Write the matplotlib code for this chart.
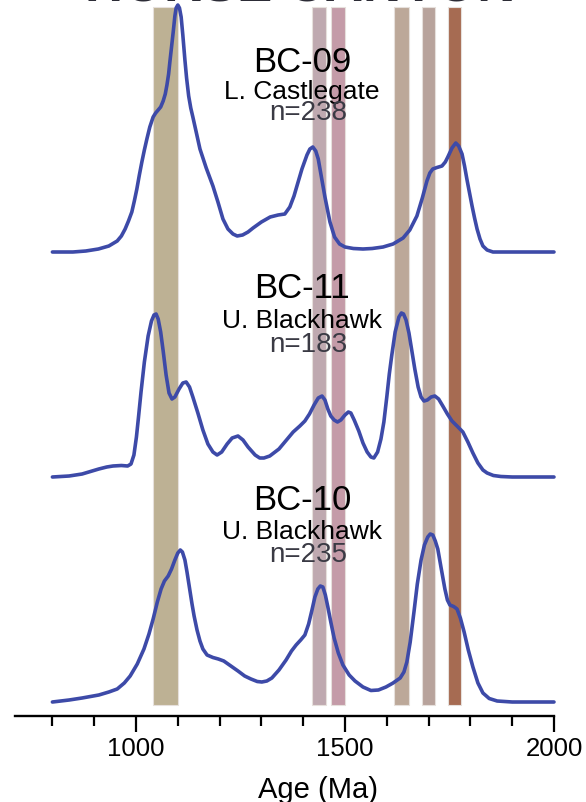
import matplotlib
matplotlib.use("Agg")
import matplotlib.pyplot as plt
from matplotlib.ticker import FixedLocator

plt.rcParams['font.family'] = ['Liberation Sans', 'DejaVu Sans']

title = "HORSE CANYON"
samples = ["BC-09", "BC-11", "BC-10"]
units = ["L. Castlegate", "U. Blackhawk", "U. Blackhawk"]
counts = ["n=238", "n=183", "n=235"]

# curve points: age (Ma) and relative density
ages_bc09 = [800, 849, 880, 910, 935, 955, 965, 974, 982, 990, 996, 1002, 1008, 1014, 1020,
             1026, 1033, 1041, 1047, 1053, 1059, 1065, 1070, 1074, 1078, 1081, 1085, 1089,
             1093, 1096, 1100, 1104, 1108, 1112, 1117, 1121, 1126, 1131, 1136, 1144, 1153,
             1168, 1184, 1196, 1208, 1220, 1232, 1242, 1255, 1268, 1280, 1300, 1321, 1340,
             1356, 1368, 1378, 1385, 1397, 1409, 1416, 1423, 1430, 1436, 1444, 1452, 1464,
             1475, 1487, 1500, 1520, 1543, 1565, 1591, 1615, 1639, 1655, 1672, 1685, 1696,
             1703, 1710, 1720, 1732, 1740, 1746, 1756, 1765, 1772, 1780, 1786, 1792, 1798,
             1804, 1810, 1816, 1823, 1830, 1840, 1854, 1900, 2000]
dens_bc09 = [0, 0, 0.01, 0.03, 0.06, 0.11, 0.16, 0.23, 0.31, 0.40, 0.51, 0.63, 0.77, 0.90, 1.02,
             1.13, 1.25, 1.35, 1.39, 1.42, 1.45, 1.51, 1.58, 1.67, 1.78, 1.90, 2.05, 2.20,
             2.36, 2.44, 2.47, 2.44, 2.35, 2.17, 1.92, 1.74, 1.56, 1.44, 1.35, 1.20, 1.03,
             0.84, 0.66, 0.50, 0.33, 0.23, 0.18, 0.16, 0.17, 0.20, 0.24, 0.30, 0.35, 0.37,
             0.38, 0.45, 0.56, 0.66, 0.83, 0.97, 1.03, 1.05, 1.01, 0.93, 0.74, 0.55, 0.30,
             0.15, 0.08, 0.05, 0.035, 0.03, 0.035, 0.05, 0.08, 0.14, 0.22, 0.36, 0.54, 0.71,
             0.79, 0.83, 0.845, 0.86, 0.90, 0.95, 1.04, 1.09, 1.06, 0.98, 0.86, 0.72, 0.59,
             0.46, 0.34, 0.23, 0.13, 0.06, 0.02, 0.0, 0, 0]

ages_bc11 = [800, 840, 871, 895, 911, 930, 945, 965, 980, 988, 995, 1001, 1006, 1012, 1020,
             1029, 1037, 1043, 1048, 1053, 1059, 1065, 1072, 1079, 1086, 1093, 1103, 1112,
             1120, 1128, 1136, 1148, 1160, 1172, 1184, 1194, 1205, 1218, 1230, 1244, 1256,
             1268, 1285, 1296, 1306, 1320, 1342, 1360, 1376, 1392, 1404, 1415, 1426, 1436,
             1445, 1452, 1459, 1466, 1474, 1482, 1490, 1500, 1508, 1514, 1522, 1533, 1543,
             1553, 1562, 1569, 1578, 1586, 1593, 1600, 1606, 1612, 1620, 1629, 1635, 1640,
             1646, 1653, 1660, 1667, 1675, 1682, 1689, 1697, 1706, 1715, 1724, 1734, 1745,
             1756, 1768, 1782, 1794, 1806, 1818, 1830, 1840, 1855, 1873, 1900, 2000]
dens_bc11 = [0, 0.01, 0.03, 0.06, 0.08, 0.10, 0.11, 0.115, 0.11, 0.13, 0.22, 0.40, 0.60, 0.85,
             1.15, 1.41, 1.56, 1.62, 1.63, 1.58, 1.45, 1.26, 1.02, 0.84, 0.78, 0.80, 0.88,
             0.94, 0.95, 0.90, 0.80, 0.64, 0.47, 0.33, 0.25, 0.22, 0.25, 0.33, 0.39, 0.41,
             0.37, 0.30, 0.22, 0.19, 0.19, 0.21, 0.28, 0.37, 0.45, 0.51, 0.56, 0.63, 0.72,
             0.79, 0.81, 0.77, 0.68, 0.61, 0.57, 0.55, 0.57, 0.62, 0.65, 0.64, 0.57, 0.46,
             0.34, 0.25, 0.20, 0.19, 0.25, 0.38, 0.55, 0.80, 1.03, 1.22, 1.45, 1.60, 1.64,
             1.63, 1.57, 1.44, 1.26, 1.08, 0.90, 0.80, 0.76, 0.77, 0.80, 0.81, 0.78, 0.71,
             0.63, 0.56, 0.51, 0.45, 0.35, 0.24, 0.14, 0.07, 0.04, 0.015, 0.005, 0, 0]

ages_bc10 = [800, 840, 871, 911, 935, 955, 972, 986, 1003, 1019, 1031, 1041, 1051, 1060, 1068,
             1077, 1085, 1093, 1100, 1106, 1111, 1117, 1122, 1128, 1134, 1139, 1146, 1153,
             1160, 1170, 1184, 1197, 1210, 1227, 1244, 1260, 1275, 1290, 1301, 1313, 1325,
             1342, 1359, 1372, 1383, 1394, 1404, 1413, 1421, 1428, 1435, 1441, 1447, 1453,
             1459, 1466, 1474, 1484, 1495, 1510, 1524, 1543, 1562, 1580, 1598, 1615, 1632,
             1641, 1648, 1656, 1665, 1673, 1682, 1690, 1698, 1704, 1710, 1716, 1722, 1730,
             1739, 1745, 1751, 1760, 1768, 1776, 1785, 1795, 1806, 1818, 1830, 1845, 1864,
             1900, 2000]
dens_bc10 = [0, 0.02, 0.04, 0.07, 0.10, 0.13, 0.19, 0.26, 0.38, 0.53, 0.68, 0.83, 1.00, 1.13,
             1.21, 1.26, 1.33, 1.42, 1.49, 1.52, 1.50, 1.42, 1.30, 1.14, 0.98, 0.86, 0.72,
             0.61, 0.53, 0.47, 0.445, 0.43, 0.41, 0.36, 0.31, 0.26, 0.23, 0.205, 0.20, 0.21,
             0.24, 0.32, 0.42, 0.51, 0.57, 0.62, 0.67, 0.78, 0.92, 1.05, 1.13, 1.16, 1.15,
             1.07, 0.95, 0.80, 0.64, 0.49, 0.37, 0.27, 0.21, 0.15, 0.115, 0.12, 0.15, 0.19,
             0.24, 0.30, 0.40, 0.60, 0.90, 1.18, 1.42, 1.57, 1.65, 1.68, 1.67, 1.61, 1.53,
             1.34, 1.13, 1.02, 0.97, 0.955, 0.93, 0.84, 0.70, 0.52, 0.35, 0.19, 0.09, 0.035,
             0.01, 0, 0]

band_start = [1040, 1420, 1467, 1618, 1684, 1746]
band_end = [1100, 1455, 1500, 1652, 1715, 1778]
band_colors = ["#bdb194", "#bfa9b0", "#c49ba8", "#bca899", "#b8a39c", "#a66b52"]

major_ticks = [1000, 1500, 2000]
minor_ticks = [800, 900, 1100, 1200, 1300, 1400, 1600, 1700, 1800, 1900]


def draw():
    fig = plt.figure(figsize=(5.86, 8.03), dpi=100)
    ax = fig.add_axes([0, 86 / 803, 1, 717 / 803])
    ax.set_xlim(674.6, 2076.6)
    ax.set_ylim(0, 7.17)

    for x0, x1, c in zip(band_start, band_end, band_colors):
        ax.axvspan(x0, x1, ymin=0.015, ymax=0.989, facecolor=c, edgecolor="#e6e0dc",
                   linewidth=0.8, zorder=1)

    curves = [(ages_bc09, dens_bc09), (ages_bc11, dens_bc11), (ages_bc10, dens_bc10)]
    offsets = [4.64, 2.39, 0.14]
    for (a, d), off in zip(curves, offsets):
        ax.plot(a, [v + off for v in d], color="#3d4aa8", lw=2.6,
                solid_joinstyle="round", solid_capstyle="round", zorder=3)

    name_y = [6.55, 4.28, 2.16]
    unit_y = [6.25, 3.96, 1.85]
    n_y = [6.04, 3.72, 1.62]
    for i in range(3):
        ax.text(1397, name_y[i], samples[i], ha="center", va="center", fontsize=25,
                color="black", zorder=4)
        ax.text(1397, unit_y[i], units[i], ha="center", va="center", fontsize=19,
                color="black", zorder=4)
        ax.text(1411, n_y[i], counts[i], ha="center", va="center", fontsize=20,
                color="#3a3a44", zorder=4)

    for s in ["left", "right", "top"]:
        ax.spines[s].set_visible(False)
    ax.spines["bottom"].set_bounds(710, 2000)
    ax.spines["bottom"].set_linewidth(1.7)
    ax.set_yticks([])
    ax.xaxis.set_major_locator(FixedLocator(major_ticks))
    ax.xaxis.set_minor_locator(FixedLocator(minor_ticks))
    ax.tick_params(axis="x", which="major", direction="out", length=11.5, width=1.6,
                   labelsize=18.5, pad=3)
    ax.tick_params(axis="x", which="minor", direction="out", length=7.2, width=1.6)
    ax.set_xticklabels([str(t) for t in major_ticks])

    fig.text(318 / 586, 1 - 790 / 803, "Age (Ma)", ha="center", va="center", fontsize=21)
    fig.text(300 / 586, 1 - 2 / 803, title, ha="center", va="baseline", fontsize=38,
             fontweight="bold", color="#2c2c36")

    fig.savefig("out.png", dpi=100)


if __name__ == '__main__':
    draw()
